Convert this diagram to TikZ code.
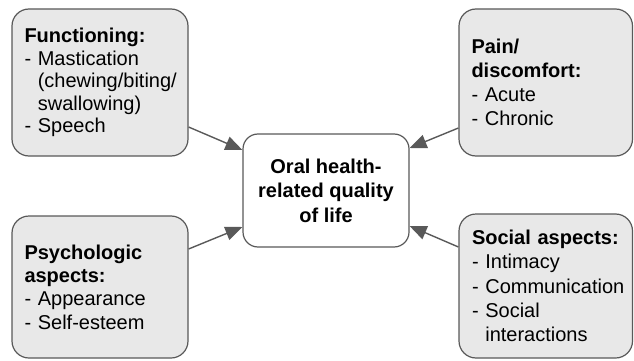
\documentclass[tikz,border=0pt]{standalone}
\usepackage{fontspec}
\setmainfont{Liberation Sans}
\usetikzlibrary{arrows.meta}
\definecolor{edgegray}{HTML}{595959}
\definecolor{boxfill}{HTML}{E8E8E8}
\newcommand{\nohyph}{\hyphenpenalty=10000\relax\exhyphenpenalty=10000\relax}
\tikzset{
  sidebox/.style={draw=edgegray, line width=1.2pt, fill=boxfill, rounded corners=17pt,
    inner xsep=12.5pt, inner ysep=0pt, align=left, anchor=center,
    font=\fontsize{20}{22.6}\selectfont\nohyph},
  mainbox/.style={draw=edgegray, line width=1.2pt, fill=white, rounded corners=15pt,
    inner sep=0pt, align=center, font=\bfseries\fontsize{20}{24.5}\selectfont},
  arr/.style={draw=edgegray, line width=1.4pt, -{Triangle[length=17pt,width=14pt]}}
}
\newcommand{\ind}{\hphantom{- }}
\hbadness=10000 \hfuzz=100pt
\begin{document}
\begin{tikzpicture}[x=1pt,y=-1pt]
\useasboundingbox (0,0) rectangle (634,361);
\node[sidebox, minimum width=176pt, minimum height=147pt, text width=151pt] (func) at (100,82.5)
  {\textbf{Functioning:}\\-~Mastication\\\ind(chewing/biting/\\\ind swallowing)\\-~Speech};
\node[sidebox, minimum width=173.5pt, minimum height=147pt, text width=148.5pt,
  font=\fontsize{20}{24}\selectfont\nohyph] (pain) at (545.75,82.5)
  {\textbf{Pain/}\\\textbf{discomfort:}\\-~Acute\\-~Chronic};
\node[sidebox, minimum width=176pt, minimum height=142pt, text width=151pt,
  font=\fontsize{20}{23.3}\selectfont\nohyph] (psych) at (100,287)
  {\textbf{Psychologic}\\\textbf{aspects:}\\-~Appearance\\-~Self-esteem};
\node[sidebox, minimum width=173.5pt, minimum height=144pt, text width=147.5pt,
  font=\fontsize{20}{24.2}\selectfont\nohyph, inner xsep=13pt] (social) at (545.75,286)
  {\textbf{Social~aspects:}\\-~Intimacy\\-~Communication\\-~Social\\\ind interactions};
\node[mainbox, minimum width=166pt, minimum height=113pt] (main) at (326,190.5)
  {Oral health-\\related quality\\of life};
\draw[arr] ([yshift=-44.5pt]func.east) -- ([yshift=40.5pt]main.west);
\draw[arr] ([yshift=-45.5pt]pain.west) -- ([yshift=42.5pt]main.east);
\draw[arr] ([yshift=38pt]psych.east) -- ([yshift=-36.5pt]main.west);
\draw[arr] ([yshift=39pt]social.west) -- ([yshift=-35.5pt]main.east);
\end{tikzpicture}
\end{document}
